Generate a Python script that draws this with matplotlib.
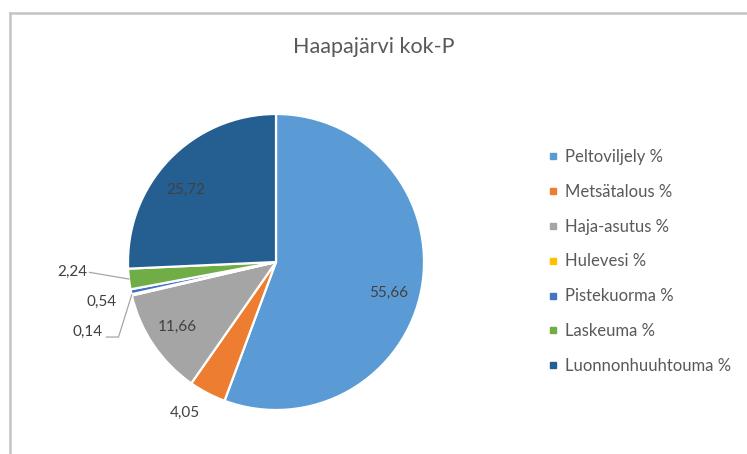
import numpy as np
import matplotlib
matplotlib.use("Agg")
import matplotlib.pyplot as plt
from matplotlib.lines import Line2D

plt.rcParams['font.family'] = ['Lato', 'DejaVu Sans']

# Data
categories = ["Peltoviljely %", "Metsätalous %", "Haja-asutus %", "Hulevesi %",
              "Pistekuorma %", "Laskeuma %", "Luonnonhuuhtouma %"]
values = [55.66, 4.05, 11.66, 0.14, 0.54, 2.24, 25.72]
colors = ["#5B9BD5", "#ED7D31", "#A5A5A5", "#FFC000", "#4472C4", "#70AD47", "#255E91"]
title = "Haapajärvi kok-P"

# label positions (pie radius = 1), as Excel placed them
label_pos = [(0.76, -0.21), (-0.615, -1.02), (-0.67, -0.44), (-1.27, -0.473),
             (-1.176, -0.27), (-1.378, -0.068), (-0.608, 0.486)]

W, H = 747, 454
fig = plt.figure(figsize=(W / 100, H / 100), dpi=100)

# chart frame (only top and left edges visible in the crop)
fig.add_artist(Line2D([10 / W, 1], [1 - 13 / H] * 2, color="#C4C4C4", lw=1.8))
fig.add_artist(Line2D([10 / W] * 2, [0, 1 - 13 / H], color="#C4C4C4", lw=1.8))

fig.text(374 / W, 1 - 47 / H, title, ha="center", va="center",
         fontsize=15.5, color="#595959")

# pie axes: centre at (276, 262) px, radius 148 px
R = 148.0
lim = 1.5
side = 2 * R * lim
cx, cy = 276, H - 262
ax = fig.add_axes([(cx - side / 2) / W, (cy - side / 2) / H, side / W, side / H])

wedges, _ = ax.pie(values, colors=colors, startangle=90, counterclock=False,
                   radius=1, wedgeprops=dict(edgecolor="white", linewidth=1.6))
ax.set_xlim(-lim, lim)
ax.set_ylim(-lim, lim)
ax.set_aspect("equal")
ax.axis("off")

for v, (x, y) in zip(values, label_pos):
    ax.text(x, y, f"{v:.2f}".replace(".", ","), ha="center", va="center",
            fontsize=11, color="#404040")

# leader lines for the small slices
def edge_point(w):
    a = np.deg2rad((w.theta1 + w.theta2) / 2)
    return np.cos(a), np.sin(a)

px, py = edge_point(wedges[5])
ax.plot([-1.26, px], [-0.07, py], color="#A6A6A6", lw=0.9, clip_on=False)
px, py = edge_point(wedges[3])
ax.plot([px, -1.064, -1.145], [py, -0.507, -0.507], color="#A6A6A6", lw=0.9, clip_on=False)

handles = [Line2D([], [], marker="s", linestyle="none", markersize=5,
                  markerfacecolor=c, markeredgecolor=c) for c in colors]
fig.legend(handles, categories, loc="upper left",
           bbox_to_anchor=(548 / W, 1 - 149 / H), frameon=False,
           fontsize=12, labelcolor="#595959", handlelength=0.6,
           handletextpad=0.4, labelspacing=1.13, borderpad=0, borderaxespad=0)

fig.savefig("out.png", dpi=100, facecolor="white")
